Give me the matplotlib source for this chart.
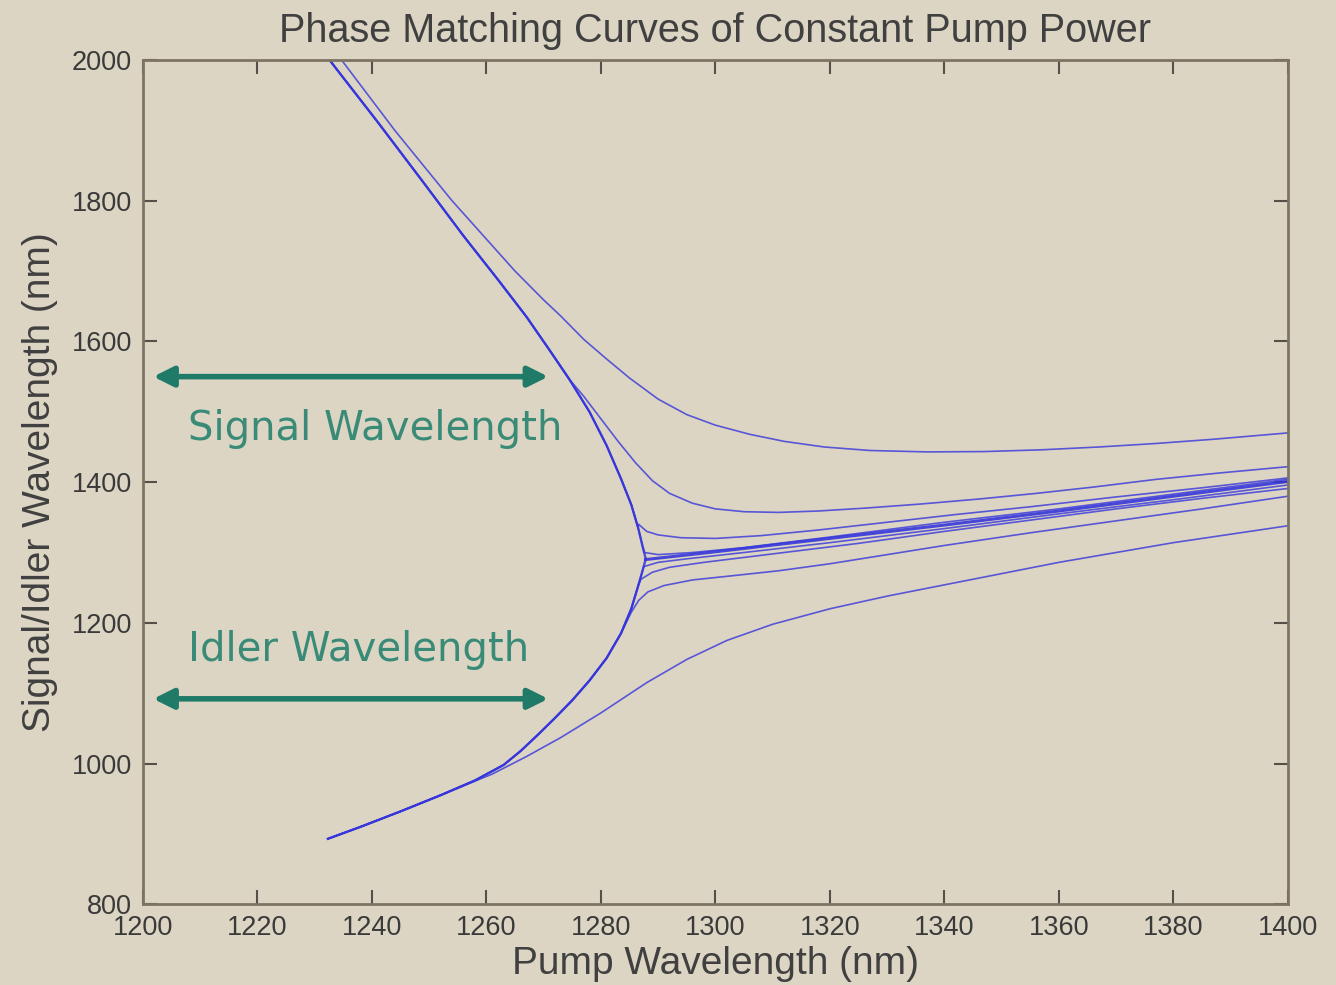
import numpy as np
import matplotlib
matplotlib.use("Agg")
import matplotlib.pyplot as plt

# Phase matching curves (pump nm, signal/idler nm)

# shared upper (signal) branch, pump below the zero dispersion wavelength
upper_x = [1232.6, 1241, 1249, 1256, 1262, 1267, 1271, 1274.5, 1278, 1281, 1283.5, 1285.3, 1286.5, 1287.3, 1287.8]
upper_y = [2000, 1912, 1826, 1750, 1688, 1635, 1588, 1546, 1500, 1452, 1405, 1368, 1335, 1308, 1292]

# shared lower (idler) branch
lower_x = [1232.3, 1238, 1245, 1252, 1258, 1263, 1266, 1269, 1272, 1275, 1278, 1281, 1283.5, 1285.3, 1286.6, 1287.4, 1287.8]
lower_y = [893, 910, 932, 955, 976, 998, 1018, 1041, 1065, 1090, 1118, 1150, 1185, 1220, 1255, 1278, 1290]

# degenerate line (no pump power)
degen_x = [1287.8, 1300, 1320, 1340, 1360, 1380, 1400]
degen_y = [1290, 1301, 1320, 1339, 1359, 1380, 1401]

# signal curves that leave the shared branch
top_x = [1234.7, 1244, 1254, 1265, 1270, 1273, 1277, 1281, 1285, 1290, 1295, 1300, 1306,
         1312, 1319, 1327, 1337, 1347, 1357, 1367, 1377, 1387, 1400]
top_y = [2000, 1900, 1800, 1700, 1659, 1636, 1603, 1575, 1548, 1518, 1496, 1481, 1468,
         1458, 1450, 1445, 1443, 1443.5, 1446, 1450, 1455, 1461, 1470]

sig2_x = [1277, 1280, 1283, 1286, 1289, 1292, 1296, 1300, 1305, 1311, 1318, 1326, 1336, 1346,
          1356, 1366, 1377, 1388, 1400]
sig2_y = [1522, 1490, 1458, 1428, 1402, 1384, 1370, 1362, 1358, 1357, 1359, 1363, 1369, 1376,
          1384, 1393, 1404, 1413, 1422]

sig3_x = [1286.6, 1288, 1290, 1294, 1300, 1308, 1318, 1330, 1342, 1355, 1370, 1385, 1400]
sig3_y = [1340, 1330, 1325, 1321, 1320, 1324, 1332, 1343, 1354, 1365, 1379, 1392, 1406]

sig4_x = [1287.6, 1290, 1296, 1305, 1320, 1340, 1360, 1380, 1400]
sig4_y = [1300, 1297, 1300, 1307, 1322, 1343, 1362, 1383, 1404]

# idler curves that leave the shared branch
idl4_x = [1287.5, 1290, 1295, 1305, 1320, 1340, 1360, 1380, 1400]
idl4_y = [1280, 1286, 1291, 1300, 1314, 1334, 1355, 1375, 1396]

idl3_x = [1287, 1289, 1292, 1298, 1311, 1325, 1340, 1355, 1370, 1385, 1400]
idl3_y = [1262, 1272, 1279, 1286, 1299, 1313, 1330, 1346, 1362, 1377, 1391]

idl2_x = [1285.3, 1286.6, 1288.2, 1291, 1296, 1303, 1311, 1320, 1330, 1340, 1355, 1370, 1385, 1400]
idl2_y = [1215, 1232, 1244, 1253, 1261, 1267, 1274, 1284, 1297, 1310, 1328, 1345, 1362, 1380]

bottom_x = [1255, 1261, 1267, 1273, 1280, 1288, 1295, 1302, 1310, 1320, 1330, 1340, 1350,
            1360, 1370, 1380, 1390, 1400]
bottom_y = [965, 985, 1010, 1037, 1072, 1115, 1148, 1175, 1198, 1220, 1238, 1254, 1270,
            1286, 1300, 1314, 1326, 1338]

bg = '#ddd5c3'
line_col = '#3636dc'
green = '#1f7a68'
text_green = '#3a8a78'


def join(base_x, base_y, tail_x, tail_y):
    # shared branch up to where the curve splits off, then the curve itself
    bx = np.array(base_x)
    by = np.array(base_y)
    keep = bx < tail_x[0]
    return np.r_[bx[keep], tail_x], np.r_[by[keep], tail_y]


fig = plt.figure(figsize=(13.36, 9.85), dpi=100, facecolor=bg)
ax = fig.add_axes([0.107, 0.082, 0.857, 0.857], facecolor=bg)

ax.plot(upper_x, upper_y, color=line_col, lw=1.7, alpha=0.85)
ax.plot(lower_x, lower_y, color=line_col, lw=1.7, alpha=0.85)
ax.plot(degen_x, degen_y, color=line_col, lw=2.2, alpha=0.9)

ax.plot(top_x, top_y, color=line_col, lw=1.2, alpha=0.8)
for tx, ty in [(sig2_x, sig2_y), (sig3_x, sig3_y), (sig4_x, sig4_y)]:
    cx, cy = join(upper_x, upper_y, tx, ty)
    ax.plot(cx, cy, color=line_col, lw=1.2, alpha=0.8)

for tx, ty in [(idl4_x, idl4_y), (idl3_x, idl3_y), (idl2_x, idl2_y), (bottom_x, bottom_y)]:
    cx, cy = join(lower_x, lower_y, tx, ty)
    ax.plot(cx, cy, color=line_col, lw=1.2, alpha=0.8)

# annotation arrows and text
for yv in [1550, 1092]:
    ax.annotate('', xy=(1270.8, yv), xytext=(1201.8, yv),
                arrowprops=dict(arrowstyle='<|-|>', color=green, lw=4,
                                mutation_scale=30, shrinkA=0, shrinkB=0))
ax.text(1207.8, 1475, 'Signal Wavelength', color=text_green, fontsize=29,
        family='DejaVu Sans', va='center', ha='left')
ax.text(1207.8, 1162, 'Idler Wavelength', color=text_green, fontsize=29,
        family='DejaVu Sans', va='center', ha='left')

ax.set_xlim(1200, 1400)
ax.set_ylim(800, 2000)
ax.set_xticks(np.arange(1200, 1401, 20))
ax.set_yticks(np.arange(800, 2001, 200))

for s in ax.spines.values():
    s.set_color('#7d7464')
    s.set_linewidth(2)
ax.tick_params(direction='in', top=True, right=True, length=10, width=1.5,
               color='#555048', labelsize=19.5, labelcolor='#3a3a3a', pad=8)
for lab in ax.get_xticklabels() + ax.get_yticklabels():
    lab.set_family('Liberation Sans')

ax.set_title('Phase Matching Curves of Constant Pump Power', fontsize=28.5,
             family='Liberation Sans', color='#404040', pad=13)
ax.set_xlabel('Pump Wavelength (nm)', fontsize=28, family='Liberation Sans',
              color='#404040', labelpad=3)
ax.set_ylabel('Signal/Idler Wavelength (nm)', fontsize=28, family='Liberation Sans',
              color='#404040', labelpad=10)

fig.savefig('out.png', dpi=100, facecolor=bg)
